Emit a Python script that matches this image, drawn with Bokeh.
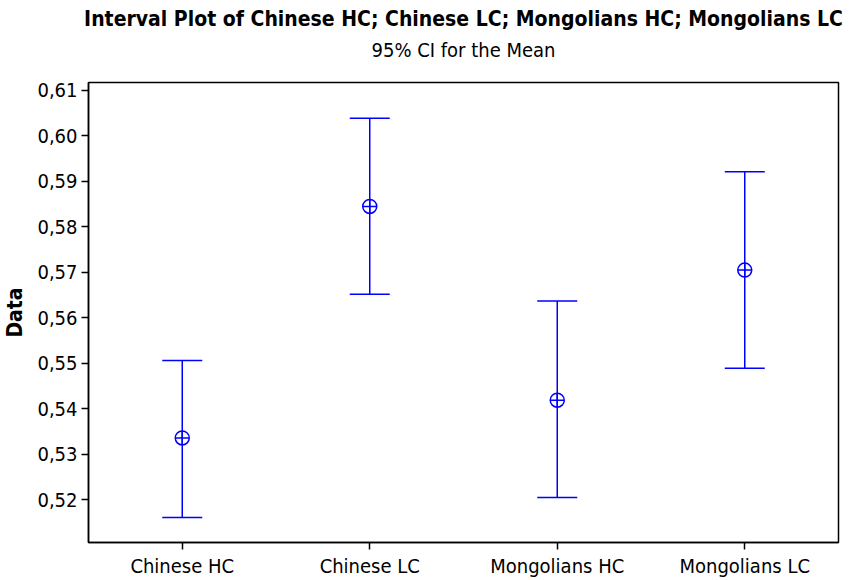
from bokeh.plotting import figure
from bokeh.models import (ColumnDataSource, Whisker, TeeHead, FactorRange, FixedTicker,
                          CustomJSTickFormatter, Title, Range1d, CategoricalAxis)
from bokeh.embed import file_html
from bokeh.resources import INLINE

categories = ["Chinese HC", "Chinese LC", "Mongolians HC", "Mongolians LC"]
means = [0.5336, 0.5845, 0.5419, 0.5705]
upper = [0.5506, 0.6039, 0.5637, 0.5921]
lower = [0.5161, 0.5652, 0.5205, 0.5489]
y_ticks = [0.52, 0.53, 0.54, 0.55, 0.56, 0.57, 0.58, 0.59, 0.60, 0.61]

title_text = "Interval Plot of Chinese HC; Chinese LC; Mongolians HC; Mongolians LC"
subtitle_text = "95% CI for the Mean"

FONT = "'Liberation Sans Narrow', 'DejaVu Sans Condensed', 'DejaVu Sans', sans-serif"
BLUE = "#0000FF"

src = ColumnDataSource(dict(x=categories, mean=means, upper=upper, lower=lower))

p = figure(width=851, height=580, x_range=FactorRange(*categories, range_padding=0),
           y_range=Range1d(0.51061, 0.61175), output_backend="svg", toolbar_location=None,
           min_border_left=88, min_border_right=13, min_border_bottom=37, min_border_top=0)
p.title = None

# subtitle carried by an otherwise invisible axis above the frame
sub_axis = CategoricalAxis(axis_label=subtitle_text, axis_label_text_font=FONT,
                           axis_label_text_font_size="20px", axis_label_text_font_style="normal",
                           axis_label_text_color="black", axis_label_standoff=21,
                           axis_line_color=None, major_tick_line_color=None, minor_tick_line_color=None,
                           major_tick_out=0, major_tick_in=0, major_label_standoff=0,
                           major_label_text_font_size="0px", separator_line_color=None,
                           group_text_font_size="0px")
p.add_layout(sub_axis, "above")
p.add_layout(Title(text=title_text, align="center", text_font=FONT, text_font_size="21px",
                   text_font_style="bold", text_color="black", standoff=8), "above")

whisk = Whisker(source=src, base="x", upper="upper", lower="lower", line_color=BLUE, line_width=1.5,
                upper_head=TeeHead(size=40, line_color=BLUE, line_width=1.5),
                lower_head=TeeHead(size=40, line_color=BLUE, line_width=1.5))
p.add_layout(whisk)
p.scatter(x="x", y="mean", source=src, marker="circle_cross", size=14, fill_color=None,
          line_color=BLUE, line_width=1.5)

p.xgrid.visible = False
p.ygrid.visible = False
p.outline_line_color = "black"
p.outline_line_width = 1.5

p.yaxis.ticker = FixedTicker(ticks=y_ticks)
p.yaxis.formatter = CustomJSTickFormatter(code="return tick.toFixed(2).replace('.', ',');")
p.yaxis.axis_label = "Data"
p.yaxis.axis_label_text_font = FONT
p.yaxis.axis_label_text_font_style = "bold"
p.yaxis.axis_label_text_font_size = "21px"
p.yaxis.axis_label_text_color = "black"
p.yaxis.axis_label_standoff = 7

for ax in (p.below[0], p.yaxis[0]):
    ax.major_label_text_font = FONT
    ax.major_label_text_font_size = "20px"
    ax.major_label_text_color = "black"
    ax.axis_line_color = "black"
    ax.axis_line_width = 1.5
    ax.major_tick_line_color = "black"
    ax.major_tick_line_width = 1.5
    ax.major_tick_out = 7
    ax.major_tick_in = 0
    ax.minor_tick_line_color = None
    ax.major_label_standoff = 4

open("out.html", "w").write(file_html(p, INLINE))
